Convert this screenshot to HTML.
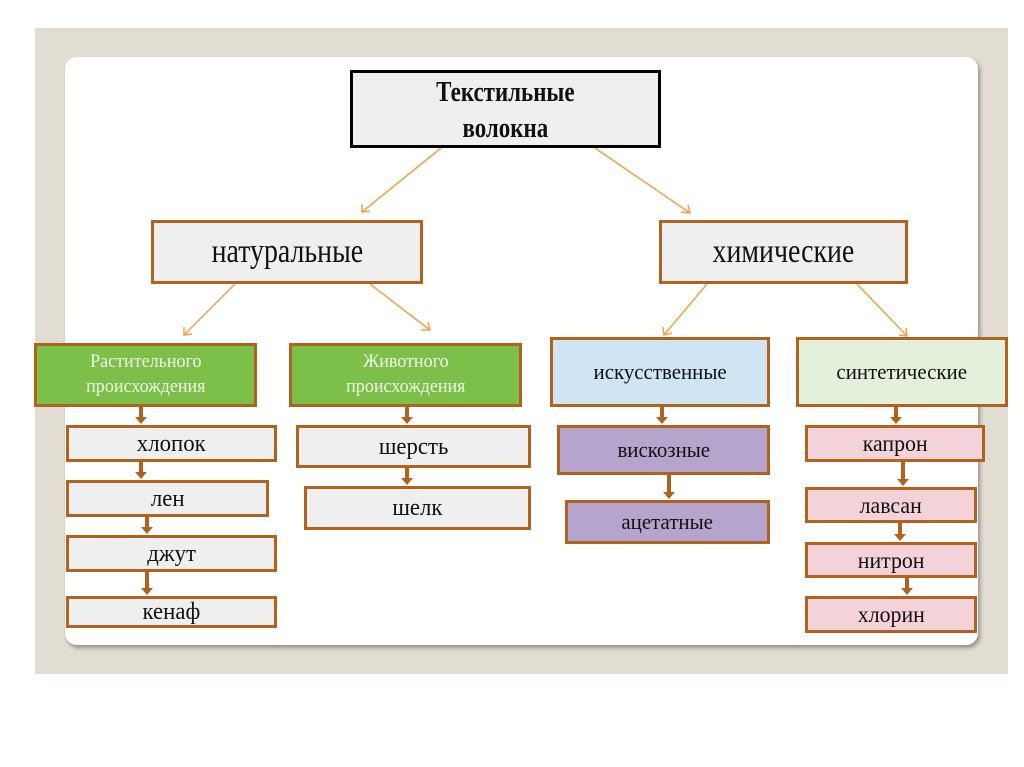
<!DOCTYPE html>
<html><head><meta charset="utf-8"><style>
body{margin:0;width:1024px;height:767px;background:#fff;position:relative;overflow:hidden;font-family:"Liberation Serif",serif}
.frame{position:absolute;left:35px;top:28px;width:973px;height:646px;background:#e2ddd3}
.panel{position:absolute;left:65px;top:57px;width:913px;height:588px;background:#fff;border-radius:12px;box-shadow:2px 3px 4px rgba(0,0,0,.35)}
.b{position:absolute;box-sizing:border-box;border:3px solid #b0621f;background:#efefef;display:flex;align-items:center;justify-content:center;text-align:center;color:#111;line-height:1}
.b span{display:inline-block;transform:scaleX(.95);white-space:nowrap}
.b.c span{transform:scaleX(.82)}
.g{background:#7cc04a;color:#eef6e6;font-size:19px;line-height:1.3}
.a{position:absolute;width:4px;background:#b0621f}
.a:after{content:"";position:absolute;left:-4px;bottom:-6px;border-left:6px solid transparent;border-right:6px solid transparent;border-top:7px solid #b0621f}
</style></head><body>
<div class="frame"></div><div class="panel"></div>
<svg style="position:absolute;left:0;top:0" width="1024" height="767">
<g stroke="#f0a04a" stroke-width="1.5" fill="none">
<line x1="441" y1="148" x2="362" y2="212"/><polyline points="362,204 362,212 370,211"/>
<line x1="595" y1="148" x2="690" y2="213"/><polyline points="681,212 690,213 688,205"/>
<line x1="235" y1="284" x2="184" y2="335"/><polyline points="184,327 184,335 192,334"/>
<line x1="370" y1="284" x2="430" y2="330"/><polyline points="421,330 430,330 428,322"/>
<line x1="707" y1="284" x2="664" y2="335"/><polyline points="663,327 664,335 672,333"/>
<line x1="857" y1="284" x2="907" y2="336"/><polyline points="899,335 907,336 906,328"/>
</g></svg>
<div class="b c" style="left:350px;top:70px;width:311px;height:78px;border-color:#000;font-weight:bold;font-size:28px;line-height:1.28"><span style="position:relative;top:2px">Текстильные<br>волокна</span></div>
<div class="b c" style="left:151px;top:220px;width:272px;height:64px;font-size:34px"><span>натуральные</span></div>
<div class="b c" style="left:659px;top:220px;width:249px;height:64px;font-size:34px"><span>химические</span></div>
<div class="b g" style="left:34px;top:343px;width:223px;height:64px"><span>Растительного<br>происхождения</span></div>
<div class="b g" style="left:289px;top:343px;width:233px;height:64px"><span>Животного<br>происхождения</span></div>
<div class="b" style="left:550px;top:337px;width:220px;height:70px;background:#cfe5f3;font-size:22px"><span>искусственные</span></div>
<div class="b" style="left:796px;top:337px;width:212px;height:70px;background:#e3f0db;font-size:22px"><span>синтетические</span></div>
<div class="b" style="left:66px;top:425px;width:211px;height:37px;font-size:24px"><span>хлопок</span></div>
<div class="b" style="left:66px;top:480px;width:203px;height:37px;font-size:24px"><span>лен</span></div>
<div class="b" style="left:66px;top:535px;width:211px;height:37px;font-size:24px"><span>джут</span></div>
<div class="b" style="left:66px;top:596px;width:211px;height:32px;font-size:24px"><span>кенаф</span></div>
<div class="b" style="left:296px;top:425px;width:235px;height:43px;font-size:24px"><span>шерсть</span></div>
<div class="b" style="left:304px;top:486px;width:227px;height:44px;font-size:24px"><span>шелк</span></div>
<div class="b" style="left:557px;top:425px;width:213px;height:50px;background:#b5a5cd;font-size:22px"><span>вискозные</span></div>
<div class="b" style="left:565px;top:500px;width:205px;height:44px;background:#b5a5cd;font-size:22px"><span>ацетатные</span></div>
<div class="b" style="left:805px;top:425px;width:180px;height:37px;background:#f3d2da;font-size:23px"><span>капрон</span></div>
<div class="b" style="left:805px;top:487px;width:172px;height:36px;background:#f3d2da;font-size:23px"><span>лавсан</span></div>
<div class="b" style="left:805px;top:542px;width:172px;height:36px;background:#f3d2da;font-size:23px"><span>нитрон</span></div>
<div class="b" style="left:805px;top:596px;width:172px;height:37px;background:#f3d2da;font-size:23px"><span>хлорин</span></div>
<div class="a" style="left:139px;top:407px;height:11px"></div>
<div class="a" style="left:139px;top:462px;height:11px"></div>
<div class="a" style="left:145px;top:517px;height:11px"></div>
<div class="a" style="left:145px;top:572px;height:17px"></div>
<div class="a" style="left:405px;top:407px;height:11px"></div>
<div class="a" style="left:405px;top:468px;height:11px"></div>
<div class="a" style="left:660px;top:407px;height:11px"></div>
<div class="a" style="left:667px;top:475px;height:18px"></div>
<div class="a" style="left:894px;top:407px;height:11px"></div>
<div class="a" style="left:901px;top:462px;height:18px"></div>
<div class="a" style="left:898px;top:523px;height:12px"></div>
<div class="a" style="left:905px;top:578px;height:11px"></div>
</body></html>
